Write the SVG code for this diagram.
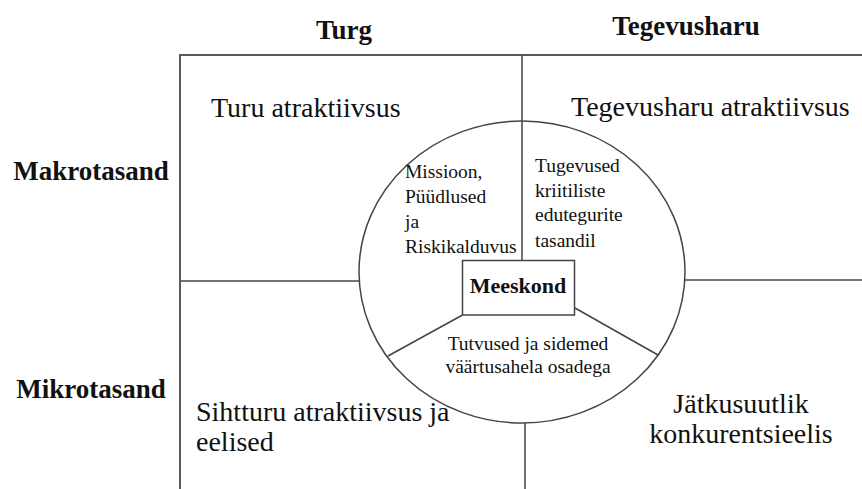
<svg xmlns="http://www.w3.org/2000/svg" width="862" height="489" viewBox="0 0 862 489">
<style>
.frame{fill:none;stroke:#5a5a5a;stroke-width:2}
.ln{fill:none;stroke:#444;stroke-width:1.5}
.hd{font-family:"Liberation Serif","Times New Roman",serif;font-weight:bold;font-size:27px;fill:#111}
.q{font-family:"Liberation Serif","Times New Roman",serif;font-size:28px;fill:#111}
.s{font-family:"Liberation Serif","Times New Roman",serif;font-size:19.5px;fill:#111}
.b{font-family:"Liberation Serif","Times New Roman",serif;font-weight:bold;font-size:22px;fill:#111}
</style>
<rect width="862" height="489" fill="#fff"/>
<g id="headers">
<text class="hd" x="344" y="39" text-anchor="middle">Turg</text>
<text class="hd" x="686" y="35" text-anchor="middle">Tegevusharu</text>
<text class="hd" x="91" y="180" text-anchor="middle">Makrotasand</text>
<text class="hd" x="91" y="398" text-anchor="middle">Mikrotasand</text>
</g>
<g id="connectors">
<path class="frame" d="M180,489 V55 H862"/>
<line class="ln" x1="181" y1="281" x2="359" y2="281"/>
<line class="ln" x1="685" y1="280" x2="862" y2="280"/>
<line class="ln" x1="522" y1="55" x2="522" y2="261"/>
<line class="ln" x1="525" y1="423" x2="525" y2="489"/>
<line class="ln" x1="462.5" y1="315" x2="388" y2="356"/>
<line class="ln" x1="575" y1="308" x2="658" y2="355"/>
</g>
<g id="circle">
<ellipse class="ln" cx="522" cy="272" rx="163" ry="151"/>
</g>
<g id="q-turu">
<text class="q" x="211" y="117">Turu atraktiivsus</text>
</g>
<g id="q-tegevusharu">
<text class="q" x="571" y="116">Tegevusharu atraktiivsus</text>
</g>
<g id="q-sihtturu">
<text class="q" x="196" y="421">Sihtturu atraktiivsus ja</text>
<text class="q" x="196" y="451">eelised</text>
</g>
<g id="q-jatkusuutlik">
<text class="q" x="741" y="413" text-anchor="middle">Jätkusuutlik</text>
<text class="q" x="741" y="443" text-anchor="middle">konkurentsieelis</text>
</g>
<g id="s-missioon">
<text class="s" x="405" y="178">Missioon,</text>
<text class="s" x="405" y="203">Püüdlused</text>
<text class="s" x="405" y="228">ja</text>
<text class="s" x="405" y="253">Riskikalduvus</text>
</g>
<g id="s-tugevused">
<text class="s" x="535" y="172">Tugevused</text>
<text class="s" x="535" y="197">kriitiliste</text>
<text class="s" x="535" y="221">edutegurite</text>
<text class="s" x="535" y="247">tasandil</text>
</g>
<g id="s-tutvused">
<text class="s" x="528" y="350" text-anchor="middle">Tutvused ja sidemed</text>
<text class="s" x="528" y="373" text-anchor="middle">väärtusahela osadega</text>
</g>
<g id="meeskond">
<rect x="462.5" y="260.5" width="112" height="54.5" fill="#fff" stroke="#444" stroke-width="1.5"/>
<text class="b" x="518" y="293" text-anchor="middle">Meeskond</text>
</g>
</svg>
